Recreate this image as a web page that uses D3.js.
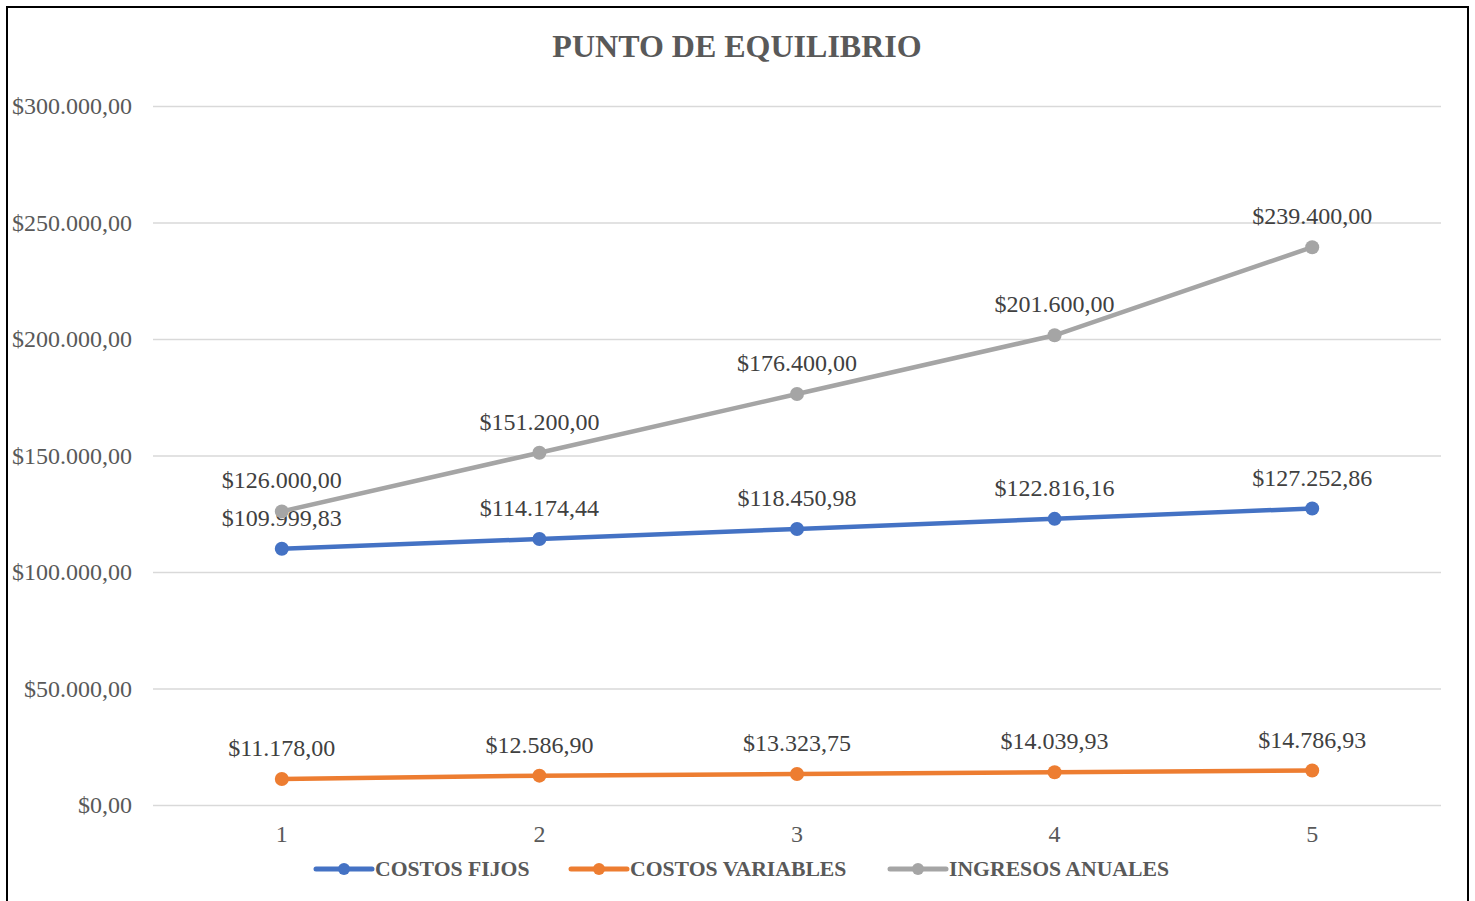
<!DOCTYPE html>
<html>
<head>
<meta charset="utf-8">
<script src="https://cdn.jsdelivr.net/npm/d3@7"></script>
<style>
  body { margin: 0; background: #fff; }
  svg { display: block; font-family: "Liberation Serif", "Times New Roman", serif; }
</style>
</head>
<body>
<svg id="chart" width="1475" height="901"></svg>
<script>
// Data.
var years = [1, 2, 3, 4, 5];
var costosFijos = [109999.83, 114174.44, 118450.98, 122816.16, 127252.86];
var costosVariables = [11178.00, 12586.90, 13323.75, 14039.93, 14786.93];
var ingresosAnuales = [126000.00, 151200.00, 176400.00, 201600.00, 239400.00];
var yTicks = [0, 50000, 100000, 150000, 200000, 250000, 300000];

var series = [
  { name: "COSTOS FIJOS", values: costosFijos, color: "#4472c4" },
  { name: "COSTOS VARIABLES", values: costosVariables, color: "#ed7d31" },
  { name: "INGRESOS ANUALES", values: ingresosAnuales, color: "#a5a5a5" }
];

var width = 1475, height = 901;
var plot = { left: 153, right: 1441, top: 106, bottom: 805 };

var svg = d3.select("#chart");

// Outer chart border (bottom edge falls outside the picture).
svg.append("rect")
  .attr("x", 7).attr("y", 7)
  .attr("width", 1461).attr("height", 910)
  .attr("fill", "none")
  .attr("stroke", "#000")
  .attr("stroke-width", 2);

// Money format like "$126.000,00"
var locale = d3.formatLocale({ decimal: ",", thousands: ".", grouping: [3], currency: ["$", ""] });
var money = locale.format("$,.2f");

var x = d3.scaleBand()
  .domain(years)
  .range([plot.left, plot.right]);

var y = d3.scaleLinear()
  .domain([0, 300000])
  .range([plot.bottom, plot.top]);

// Title
svg.append("text")
  .attr("x", 737).attr("y", 57)
  .attr("text-anchor", "middle")
  .attr("font-size", 32)
  .attr("font-weight", "bold")
  .attr("fill", "#595959")
  .text("PUNTO DE EQUILIBRIO");

// Gridlines + y labels
var yAxis = d3.axisLeft(y)
  .tickValues(yTicks)
  .tickSize(-(plot.right - plot.left))
  .tickPadding(21)
  .tickFormat(money);

var gy = svg.append("g")
  .attr("transform", "translate(" + plot.left + ",0)")
  .call(yAxis);
gy.select(".domain").remove();
gy.selectAll(".tick line").attr("stroke", "#d9d9d9").attr("stroke-width", 1.5);
gy.selectAll(".tick text")
  .attr("font-size", 24)
  .attr("font-family", "Liberation Serif, Times New Roman, serif")
  .attr("fill", "#595959");

// x labels
var xAxis = d3.axisBottom(x).tickSize(0).tickPadding(20);
var gx = svg.append("g")
  .attr("transform", "translate(0," + plot.bottom + ")")
  .call(xAxis);
gx.select(".domain").remove();
gx.selectAll(".tick text")
  .attr("font-size", 24)
  .attr("font-family", "Liberation Serif, Times New Roman, serif")
  .attr("fill", "#595959");

var cx = function(d, i) { return x(years[i]) + x.bandwidth() / 2; };

var line = d3.line()
  .x(cx)
  .y(function(d) { return y(d); });

var groups = svg.append("g").selectAll("g")
  .data(series)
  .enter().append("g");

groups.append("path")
  .attr("d", function(d) { return line(d.values); })
  .attr("fill", "none")
  .attr("stroke", function(d) { return d.color; })
  .attr("stroke-width", 4.5)
  .attr("stroke-linecap", "round");

groups.selectAll("circle")
  .data(function(d) { return d.values.map(function(v) { return { v: v, color: d.color }; }); })
  .enter().append("circle")
    .attr("cx", function(d, i) { return cx(d, i); })
    .attr("cy", function(d) { return y(d.v); })
    .attr("r", 7)
    .attr("fill", function(d) { return d.color; });

// Data labels above each point
groups.selectAll(".lbl")
  .data(function(d) { return d.values; })
  .enter().append("text")
    .attr("class", "lbl")
    .attr("x", cx)
    .attr("y", function(d) { return y(d) - 23; })
    .attr("text-anchor", "middle")
    .attr("font-size", 24)
    .attr("fill", "#404040")
    .text(function(d) { return money(d); });

// Legend
var legendX = [316, 571, 890];
var legend = svg.append("g").selectAll("g")
  .data(series)
  .enter().append("g")
    .attr("transform", function(d, i) { return "translate(" + legendX[i] + ",869)"; });

legend.append("line")
  .attr("x1", 0).attr("x2", 56)
  .attr("stroke", function(d) { return d.color; })
  .attr("stroke-width", 5)
  .attr("stroke-linecap", "round");
legend.append("circle")
  .attr("cx", 28).attr("r", 6)
  .attr("fill", function(d) { return d.color; });
legend.append("text")
  .attr("x", 59).attr("y", 7)
  .attr("font-size", 21.7)
  .attr("font-weight", "bold")
  .attr("fill", "#595959")
  .text(function(d) { return d.name; });
</script>
</body>
</html>
